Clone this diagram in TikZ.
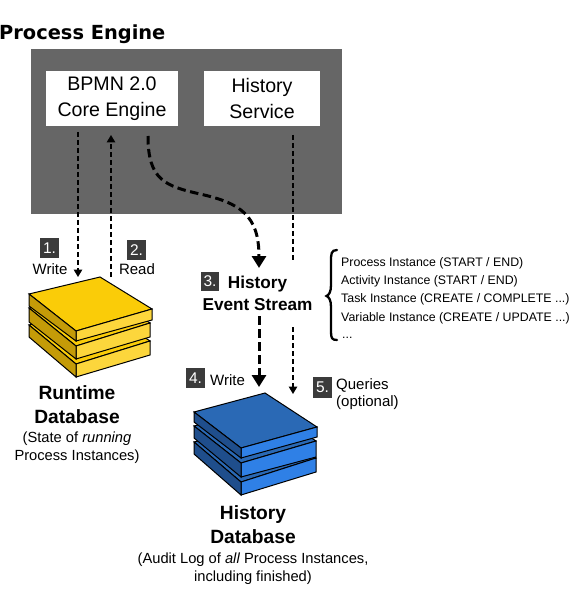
\documentclass[tikz,border=0pt]{standalone}
\usepackage{fontspec}
\setmainfont{Liberation Sans}
\newfontfamily\titlefont{DejaVu Sans}
\usetikzlibrary{arrows.meta}
\definecolor{panelgrey}{HTML}{666666}
\definecolor{badgegrey}{HTML}{3B3B3B}
\definecolor{ytop}{HTML}{FACC08}
\definecolor{yleft}{HTML}{C49B08}
\definecolor{yfront}{HTML}{FCD63C}
\definecolor{btop}{HTML}{2A69B5}
\definecolor{bleft}{HTML}{1F4E8C}
\definecolor{bfront}{HTML}{2F80E6}
\tikzset{
  x=1pt,y=-1pt,
  panel/.style={fill=panelgrey,draw=none},
  whitebox/.style={fill=white,draw=none,align=center,inner sep=0pt,font=\fontsize{19.6}{26}\selectfont},
  badge/.style={fill=badgegrey,text=white,minimum width=19pt,minimum height=20pt,inner sep=0pt,font=\fontsize{15.5}{15.5}\selectfont},
  small/.style={align=center,inner sep=0pt,font=\fontsize{15}{17}\selectfont},
  boldlabel/.style={align=center,inner sep=0pt,font=\fontsize{19.2}{24}\selectfont\bfseries},
  streamlabel/.style={align=center,inner sep=0pt,font=\fontsize{17.2}{22}\selectfont\bfseries},
  note/.style={align=center,inner sep=0pt,font=\fontsize{14.7}{18.5}\selectfont},
  listitem/.style={anchor=base west,inner sep=0pt,font=\fontsize{12.35}{14}\selectfont},
  thinflow/.style={draw=black,line width=1.4pt,dash pattern=on 5pt off 3pt,-{Triangle[width=8.5pt,length=7.5pt]}},
  thinline/.style={draw=black,line width=1.4pt,dash pattern=on 5pt off 3pt},
  thickflow/.style={draw=black,line width=3pt,dash pattern=on 8.5pt off 4.5pt,-{Triangle[width=14pt,length=12pt]}},
  slab/.style={draw=black,line width=1pt,line join=miter},
}
\begin{document}
\begin{tikzpicture}
\useasboundingbox (0,0) rectangle (570,609);
\path[fill=white] (0,0) rectangle (570,609);

\node[anchor=base west,inner sep=0pt,font=\fontsize{19.4}{20}\selectfont\titlefont\bfseries] (title) at (-1,40) {Process Engine};
\node[panel,minimum width=311pt,minimum height=165pt,inner sep=0pt] (engine) at (186.5,131.5) {};
\node[whitebox,minimum width=132pt,minimum height=55pt] (core) at (112,98.5) {BPMN 2.0\\Core Engine};
\node[whitebox,minimum width=116pt,minimum height=55pt] (service) at (262,98.5) {History\\Service};

% Yellow database
\path[slab,fill=ytop] (29,325) -- (100,308) -- (150,341) -- (76,364) -- cycle;
\path[slab,fill=yfront] (76,364) -- (150,341) -- (150,355) -- (76,377) -- cycle;
\path[slab,fill=yleft] (29,325) -- (76,364) -- (76,377) -- (29,337) -- cycle;
\path[slab,fill=ytop] (29,308) -- (100,291) -- (150,323) -- (76,346) -- cycle;
\path[slab,fill=yfront] (76,346) -- (150,323) -- (150,337) -- (76,359) -- cycle;
\path[slab,fill=yleft] (29,308) -- (76,346) -- (76,359) -- (29,322) -- cycle;
\path[slab,fill=ytop] (29,294) -- (100,277) -- (152,309) -- (76,331) -- cycle;
\path[slab,fill=yfront] (76,331) -- (152,309) -- (152,320) -- (76,341) -- cycle;
\path[slab,fill=yleft] (29,294) -- (76,331) -- (76,341) -- (29,306) -- cycle;

% Blue database
\path[slab,fill=btop] (194,442) -- (265,423) -- (316,458) -- (241,482) -- cycle;
\path[slab,fill=bfront] (241,482) -- (316,458) -- (316,472) -- (241,495) -- cycle;
\path[slab,fill=bleft] (194,442) -- (241,482) -- (241,495) -- (194,454) -- cycle;
\path[slab,fill=btop] (194,426) -- (265,407) -- (316,441) -- (241,463) -- cycle;
\path[slab,fill=bfront] (241,463) -- (316,441) -- (316,457) -- (241,477) -- cycle;
\path[slab,fill=bleft] (194,426) -- (241,463) -- (241,477) -- (194,438) -- cycle;
\path[slab,fill=btop] (194,412) -- (265,393) -- (317,427) -- (241,448) -- cycle;
\path[slab,fill=bfront] (241,448) -- (317,427) -- (317,437) -- (241,458) -- cycle;
\path[slab,fill=bleft] (194,412) -- (241,448) -- (241,458) -- (194,422) -- cycle;

% Connector ends
\coordinate (wA) at (78,132);
\coordinate (wB) at (78,277);
\coordinate (rA) at (111,277);
\coordinate (rB) at (111,135);
\coordinate (cA) at (148,136);
\coordinate (cB) at (259,268);
\coordinate (hA) at (293,135);
\coordinate (hB) at (293,262);
\coordinate (sA) at (259,316);
\coordinate (sB) at (259,387);
\coordinate (qA) at (293,327);
\coordinate (qB) at (293,394);

\draw[thinflow] (wA) -- (wB);
\draw[thinflow] (rA) -- (rB);
\draw[thickflow] (cA) .. controls (148,180) and (165,186) .. (200,194) .. controls (240,203) and (259,215) .. (cB);
\draw[thinline] (hA) -- (hB);
\draw[thickflow] (sA) -- (sB);
\draw[thinflow] (qA) -- (qB);

% Labels
\node[badge] (b1) at (49.5,248) {1.};
\node[small] (lw) at (50,269) {Write};
\node[badge] (b2) at (136.5,250) {2.};
\node[small] (lr) at (137,269.5) {Read};
\node[badge,minimum height=19pt,minimum width=18pt] (b3) at (210,281) {3.};
\node[streamlabel,anchor=base] (st1) at (257.5,288) {History};
\node[streamlabel,anchor=base] (st2) at (257.5,310) {Event Stream};
\node[badge] (b4) at (195.5,378) {4.};
\node[small,anchor=west] (lw2) at (210,380) {Write};
\node[badge,minimum height=21pt] (b5) at (322.5,387.5) {5.};
\node[small,anchor=north west,align=left] (lq) at (336,378) {Queries\\(optional)};

\node[boldlabel] (rt) at (77,405) {Runtime\\Database};
\node[note] (rtn) at (77,447.5) {(State of \textit{running}\\Process Instances)};
\node[boldlabel] (hd) at (253,525) {History\\Database};
\node[note] (hdn) at (253,568.5) {(Audit Log of \textit{all} Process Instances,\\including finished)};

% Brace
\draw[line width=2.3pt,line cap=round] (337,250) .. controls (331,250) and (331,254) .. (331,262) -- (331,285) .. controls (331,292) and (329,295) .. (326.5,296) .. controls (329,297) and (331,300) .. (331,307) -- (331,332) .. controls (331,338) and (332,340) .. (337,340);

\node[listitem] (l1) at (341,266) {Process Instance (START / END)};
\node[listitem] (l2) at (341,284) {Activity Instance (START / END)};
\node[listitem] (l3) at (341,302) {Task Instance (CREATE / COMPLETE ...)};
\node[listitem] (l4) at (341,321) {Variable Instance (CREATE / UPDATE ...)};
\node[listitem] (l5) at (342,338) {...};
\end{tikzpicture}
\end{document}
